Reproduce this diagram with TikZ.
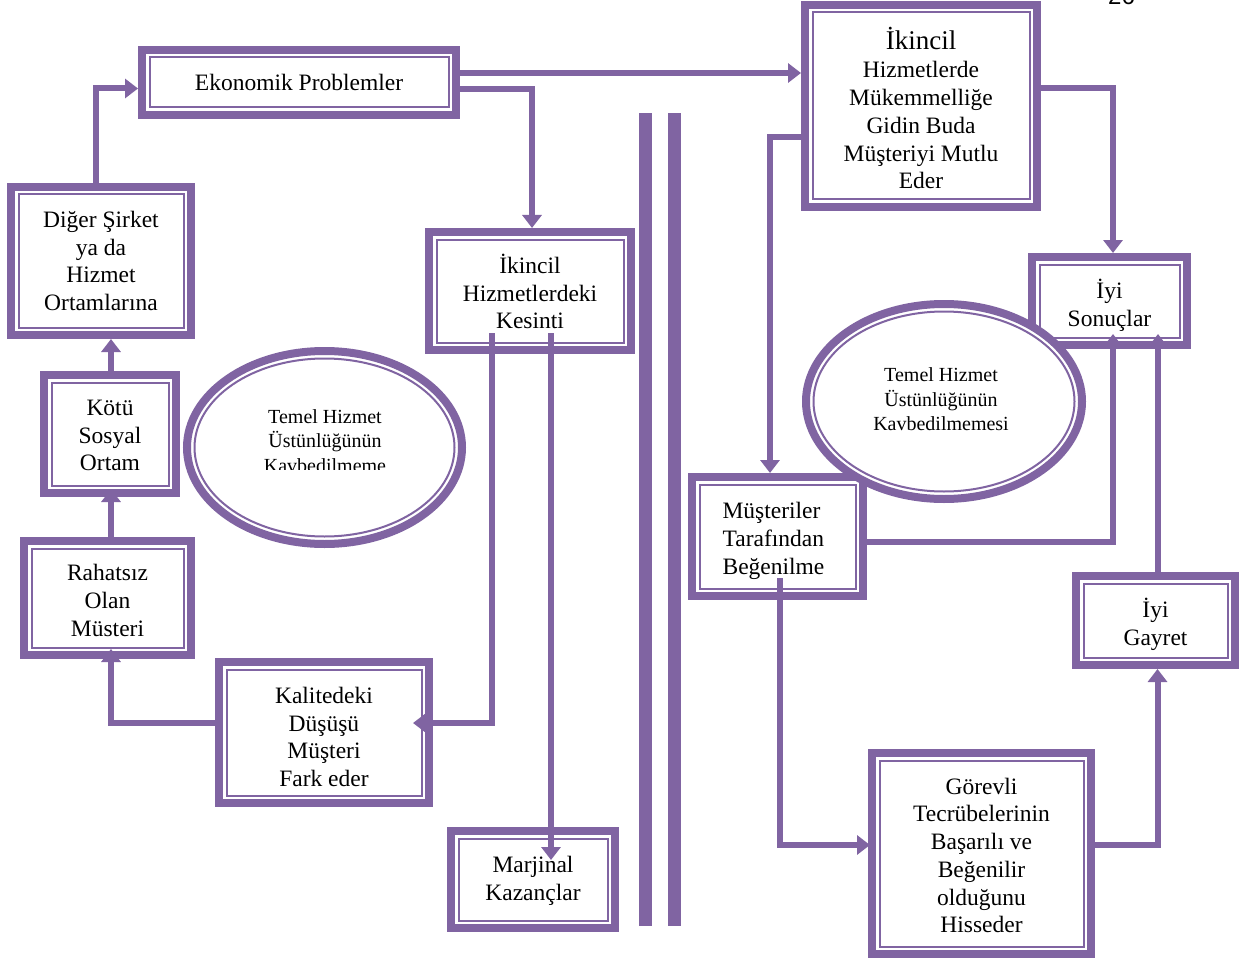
\documentclass[tikz,border=0pt]{standalone}
\usepackage{fontspec}
\setmainfont{Liberation Serif}
\newfontfamily\pagefont{Liberation Sans}
\usetikzlibrary{arrows.meta,shapes.geometric,calc}
\definecolor{lila}{HTML}{8064A2}
\tikzset{
  % rectangle with a thick outer and a thin inner border
  dbox/.style 2 args={draw=lila, line width=8pt, fill=white, inner sep=0pt, outer sep=4pt,
    minimum width=#1pt-8pt, minimum height=#2pt-8pt,
    path picture={\draw[lila, line width=2pt]
      ([shift={(7.5pt,-7.5pt)}]path picture bounding box.north west) rectangle
      ([shift={(-7.5pt,7.5pt)}]path picture bounding box.south east);}},
  % ellipse with a thick outer and a thin inner border
  dell/.style 2 args={ellipse, draw=lila, line width=8pt, fill=white, inner sep=0pt,
    minimum width=2*#1pt-8pt, minimum height=2*#2pt-8pt,
    path picture={\draw[lila, line width=2pt] (path picture bounding box.center)
      ellipse [x radius=#1pt-11.5pt, y radius=#2pt-11.5pt];}},
  txt/.style={align=center, inner sep=0pt, font=\fontsize{23.5}{27.7}\selectfont},
  etext/.style={align=center, inner sep=0pt, font=\fontsize{20}{24.5}\selectfont},
  conn/.style={draw=lila, line width=6pt, -{Triangle[length=13pt,width=19pt]}},
}
\begin{document}
\begin{tikzpicture}[x=1pt,y=-1pt]
\path[use as bounding box, fill=white] (0,0) rectangle (1250,960);

% page number
\node[anchor=base, inner sep=0pt, font=\pagefont\fontsize{24}{28}\selectfont] (pgno) at (1121.5,5) {26};

% left side boxes
\node[dbox={322}{73}] (ekon) at (299,82.5) {};
\node[dbox={188}{156}] (diger) at (101,261) {};
\node[dbox={210}{126}] (kesinti) at (530,291) {};
\node[dbox={140}{126}] (kotu) at (110,434) {};
\node[dbox={175}{122}] (rahatsiz) at (107.5,598) {};
\node[dbox={218}{149}] (kalite) at (324,732.5) {};
\node[dbox={172}{105}] (marjinal) at (533,879.5) {};

% right side boxes
\node[dbox={240}{210}] (ikincil) at (921,106) {};
\node[dbox={163}{96}] (sonuc) at (1109.5,301) {};
\node[dbox={179}{127}] (musteri) at (777.5,536.5) {};
\node[dbox={167}{97}] (gayret) at (1155.5,620.5) {};
\node[dbox={227}{209}] (gorevli) at (981.5,853.5) {};

% box texts
\node[txt] (ekon-t) at (ekon) {Ekonomik Problemler};
\node[txt] (diger-t) at (diger) {Diğer Şirket\\ya da\\Hizmet\\Ortamlarına};
\node[txt] (kesinti-t) at ($(kesinti)+(0,0.5)$) {İkincil\\Hizmetlerdeki\\Kesinti};
\node[txt] (kotu-t) at ($(kotu)+(0,1.5)$) {Kötü\\Sosyal\\Ortam};
\node[txt] (rahatsiz-t) at ($(rahatsiz)+(0,2.5)$) {Rahatsız\\Olan\\Müsteri};
\node[txt] (kalite-t) at ($(kalite)+(0,4.5)$) {Kalitedeki\\Düşüşü\\Müşteri\\Fark eder};
\node[txt] (marjinal-t) at ($(marjinal)+(0,1)$) {Marjinal\\Kazançlar};
\node[txt] (ikincil-t) at ($(ikincil)+(0,2)$)
  {{\fontsize{27}{30}\selectfont İkincil}\\[1pt]Hizmetlerde\\Mükemmelliğe\\Gidin Buda\\Müşteriyi Mutlu\\Eder};
\node[txt] (sonuc-t) at ($(sonuc)+(0,4)$) {İyi\\Sonuçlar};
\node[txt, align=left] (musteri-t) at ($(musteri)+(-4,4.5)$) {Müşteriler\\Tarafından\\Beğenilme};
\node[txt] (gayret-t) at ($(gayret)+(0,3.5)$) {İyi\\Gayret};
\node[txt] (gorevli-t) at ($(gorevli)+(0,2)$)
  {Görevli\\Tecrübelerinin\\Başarılı ve\\Beğenilir\\olduğunu\\Hisseder};

% ellipses
\node[dell={141.5}{100.5}] (el1) at (324.5,447.5) {};
\node[dell={142}{101.5}] (el2) at (944,401.5) {};
\begin{scope}
  \clip (180,350) rectangle (470,469.5);
  \node[etext] (el1txt) at (325,441) {Temel Hizmet\\Üstünlüğünün\\Kavbedilmeme};
\end{scope}
\node[etext] (el2txt) at (941,399.5) {Temel Hizmet\\Üstünlüğünün\\Kavbedilmemesi};

% separating bars
\fill[lila] (639,113) rectangle (652,926);
\fill[lila] (668,113) rectangle (681,926);

% connectors
\draw[conn] ($(diger.north)+(-5.5,0)$) |- ($(ekon.west)+(0,6)$);
\draw[conn] ($(ekon.east)+(0,-9.5)$) -- ($(ikincil.west)+(0,-33)$);
\draw[conn] ($(ekon.east)+(0,6.5)$) -| ($(kesinti.north)+(2,0)$);
\draw[conn] ($(kesinti.south)+(-38,-21)$) |- ($(kalite.east)+(-20,-9.5)$);
\draw[conn] ($(kesinti.south)+(21,-21)$) -- ($(marjinal.north)+(18,33)$);
\draw[conn] ($(kalite.west)+(0,-9.5)$) -| ($(rahatsiz.south)+(3.5,-10)$);
\draw[conn] ($(rahatsiz.north)+(3.5,0)$) -- ($(kotu.south)+(1,-8)$);
\draw[conn] ($(kotu.north)+(1,0)$) -- ($(diger.south)+(10,0)$);
\draw[conn] ($(ikincil.west)+(0,31)$) -| ($(musteri.north)+(-7.5,0)$);
\draw[conn] ($(ikincil.east)+(0,-18)$) -| ($(sonuc.north)+(3.5,0)$);
\draw[conn] ($(musteri.east)+(0,5.5)$) -| ($(sonuc.south)+(3.5,-15)$);
\draw[conn] ($(gayret.north)+(2.5,0)$) -- ($(sonuc.south)+(48.5,-15)$);
\draw[conn] ($(musteri.south)+(2.5,-22)$) |- ($(gorevli.west)+(2,-8.5)$);
\draw[conn] ($(gorevli.east)+(0,-8.5)$) -| ($(gayret.south)+(2,0)$);
\end{tikzpicture}
\end{document}
